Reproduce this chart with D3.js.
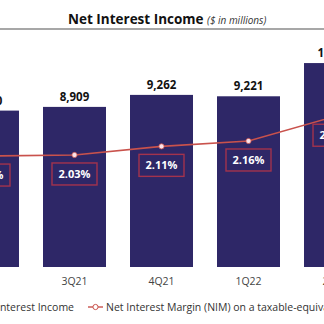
<!DOCTYPE html>
<html>
<head>
<meta charset="utf-8">
<script src="https://cdn.jsdelivr.net/npm/d3@7"></script>
<style>
  html, body { margin: 0; padding: 0; background: #fff; }
  svg { display: block; font-family: "Open Sans", "Noto Sans", sans-serif; }
</style>
</head>
<body>
<svg id="chart" width="324" height="324"></svg>
<script>
// Quarterly net interest income ($ in millions) and NIM (%)
const quarters = ["2Q21", "3Q21", "4Q21", "1Q22", "2Q22"];
const netInterestIncome = [8800, 8909, 9262, 9221, 10198];
const nimPct = [2.02, 2.03, 2.11, 2.16, 2.39];
const incomeLabels = ["8,800", "8,909", "9,262", "9,221", "10,198"];
const nimLabels = ["2.02%", "2.03%", "2.11%", "2.16%", "2.39%"];

const svg = d3.select("#chart");
const barColor = "#2e2767";
const lineColor = "#c9524c";
const boxColor = "#a3334d";

const x = d3.scaleBand()
  .domain(quarters)
  .range([-44, 367])
  .paddingInner(0.276)
  .paddingOuter(0);

const y = d3.scaleLinear().domain([4200, 10200]).range([267, 63]);
const yNim = d3.scaleLinear().domain([2.0, 2.5]).range([158.2, 104.4]);

// Title and rule
const title = svg.append("text")
  .attr("x", 68).attr("y", 24)
  .attr("fill", "#111");
title.append("tspan")
  .attr("font-size", 13.5).attr("font-weight", "bold")
  .text("Net Interest Income ");
title.append("tspan")
  .attr("font-size", 10).attr("font-style", "italic").attr("fill", "#333")
  .text("($ in millions)");

svg.append("line")
  .attr("x1", 0).attr("x2", 324).attr("y1", 29).attr("y2", 29)
  .attr("stroke", "#8a8a8a").attr("stroke-width", 1.5);

// Bars
svg.append("g").selectAll("rect")
  .data(quarters)
  .join("rect")
  .attr("x", d => x(d))
  .attr("width", x.bandwidth())
  .attr("y", (d, i) => y(netInterestIncome[i]))
  .attr("height", (d, i) => y.range()[0] - y(netInterestIncome[i]))
  .attr("fill", barColor);

// Bar value labels
svg.append("g").selectAll("text")
  .data(quarters)
  .join("text")
  .attr("x", d => x(d) + x.bandwidth() / 2)
  .attr("y", (d, i) => y(netInterestIncome[i]) - 6)
  .attr("text-anchor", "middle")
  .attr("font-size", 11.5).attr("font-weight", "bold").attr("fill", "#111")
  .text((d, i) => incomeLabels[i]);

// Category axis labels
svg.append("g").selectAll("text")
  .data(quarters)
  .join("text")
  .attr("x", d => x(d) + x.bandwidth() / 2)
  .attr("y", 285)
  .attr("text-anchor", "middle")
  .attr("font-size", 10.5).attr("fill", "#444")
  .text(d => d);

// NIM line
const cx = d => x(d) + x.bandwidth() / 2;
const line = d3.line()
  .x((d, i) => cx(quarters[i]))
  .y(d => yNim(d));
svg.append("path")
  .datum(nimPct)
  .attr("d", line)
  .attr("fill", "none")
  .attr("stroke", lineColor).attr("stroke-width", 1.6);

svg.append("g").selectAll("circle")
  .data(nimPct)
  .join("circle")
  .attr("cx", (d, i) => cx(quarters[i]))
  .attr("cy", d => yNim(d))
  .attr("r", 2.6)
  .attr("fill", "#fbe3ea")
  .attr("stroke", lineColor).attr("stroke-width", 0.8);

// NIM value boxes
const boxes = svg.append("g").selectAll("g")
  .data(nimPct)
  .join("g")
  .attr("transform", (d, i) => `translate(${cx(quarters[i])},${yNim(d) + 8})`);
boxes.append("rect")
  .attr("x", -22.5).attr("y", 0)
  .attr("width", 45).attr("height", 22)
  .attr("fill", "none")
  .attr("stroke", boxColor).attr("stroke-width", 1.4);
boxes.append("text")
  .attr("x", 0).attr("y", 15)
  .attr("text-anchor", "middle")
  .attr("font-size", 11).attr("font-weight", "bold").attr("fill", "#fff")
  .text((d, i) => nimLabels[i]);

// Legend
const legend = svg.append("g").attr("font-size", 10.5).attr("fill", "#333");
legend.append("rect")
  .attr("x", -40).attr("y", 302).attr("width", 10).attr("height", 10)
  .attr("fill", barColor);
legend.append("text")
  .attr("x", 74).attr("y", 311)
  .attr("text-anchor", "end")
  .text("Net Interest Income");
legend.append("line")
  .attr("x1", 88).attr("x2", 103).attr("y1", 307).attr("y2", 307)
  .attr("stroke", lineColor).attr("stroke-width", 1.4);
legend.append("circle")
  .attr("cx", 95.5).attr("cy", 307).attr("r", 2.6)
  .attr("fill", "#fff").attr("stroke", lineColor).attr("stroke-width", 1);
legend.append("text")
  .attr("x", 106).attr("y", 311)
  .text("Net Interest Margin (NIM) on a taxable-equivalent basis");
</script>
</body>
</html>
